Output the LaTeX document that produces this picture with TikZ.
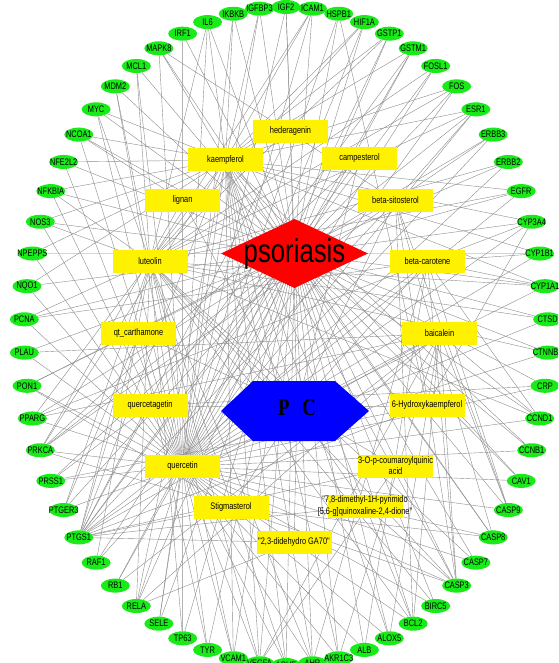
\documentclass[tikz,border=0pt]{standalone}
\usepackage{fontspec}
\newfontfamily\cond[FakeStretch=0.78,Ligatures=TeXOff]{Liberation Sans}
\newfontfamily\condserif[FakeStretch=0.78,Ligatures=TeXOff]{Liberation Serif}
\usetikzlibrary{shapes.geometric}
\pgfdeclarelayer{background}
\pgfsetlayers{background,main}
\definecolor{nodegreen}{RGB}{25,235,25}
\definecolor{edgegray}{RGB}{140,140,140}
\def\targetlist{ACHE,AHR,AKR1C3,ALB,ALOX5,BCL2,BIRC5,CASP3,CASP7,CASP8,CASP9,CAV1,CCNB1,CCND1,CRP,CTNNB1,CTSD,CYP1A1,CYP1B1,CYP3A4,EGFR,ERBB2,ERBB3,ESR1,FOS,FOSL1,GSTM1,GSTP1,HIF1A,HSPB1,ICAM1,IGF2,IGFBP3,IKBKB,IL6,IRF1,MAPK8,MCL1,MDM2,MYC,NCOA1,NFE2L2,NFKBIA,NOS3,NPEPPS,NQO1,PCNA,PLAU,PON1,PPARG,PRKCA,PRSS1,PTGER3,PTGS1,RAF1,RB1,RELA,SELE,TP63,TYR,VCAM1,VEGFA}
\begin{document}
\begin{tikzpicture}[x=1pt,y=-1pt,
  target/.style={ellipse, fill=nodegreen, minimum width=29pt, minimum height=14pt, inner sep=0pt, font=\cond\fontsize{9.5}{10}\selectfont},
  compound/.style={rectangle, fill=yellow, minimum width=75pt, minimum height=23pt, inner sep=0pt, font=\cond\fontsize{9.5}{11.5}\selectfont},
  edge/.style={draw=edgegray, line width=0.4pt}]
\clip (0,0) rectangle (558,663);

% targets on an ellipse
\foreach \n [count=\k from 0] in \targetlist {
  \pgfmathsetmacro{\ang}{270+\k*5.806452}
  \node[target] (\n) at ({286+262*cos(\ang)},{336-329*sin(\ang)}) {\makebox[0pt]{\n}};
}

% compounds
\node[compound] (hed) at (290.5,131.5) {hederagenin};
\node[compound] (kae) at (225.5,160) {kaempferol};
\node[compound] (cam) at (359.5,158.5) {campesterol};
\node[compound] (lig) at (182.5,200.5) {lignan};
\node[compound] (bsi) at (395.5,200.5) {beta-sitosterol};
\node[compound] (lut) at (150,261.5) {luteolin};
\node[compound] (bca) at (427.5,261.5) {beta-carotene};
\node[compound] (qtc) at (138.5,333.5) {qt\_carthamone};
\node[compound] (bai) at (439.5,333.5) {baicalein};
\node[compound] (qcg) at (150,405.5) {quercetagetin};
\node[compound] (hyk) at (427,405.5) {\makebox[0pt]{6-Hydroxykaempferol}};
\node[compound] (que) at (182.5,466.5) {quercetin};
\node[compound] (cqa) at (395.5,466.5) {\makebox[0pt]{\begin{tabular}{@{}c@{}}3-O-p-coumaroylquinic\\acid\end{tabular}}};
\node[compound] (sti) at (231,507.5) {Stigmasterol};
\node[compound] (dmp) at (365,506) {\makebox[0pt]{\begin{tabular}{@{}c@{}}"7,8-dimethyl-1H-pyrimido\\{}[5,6-g]quinoxaline-2,4-dione"\end{tabular}}};
\node[compound] (gaa) at (294,542.5) {\makebox[0pt]{"2,3-didehydro GA70"}};

% psoriasis
\fill[red] (221,253.5) -- (294.5,219) -- (368,253.5) -- (294.5,288) -- cycle;
\node[font=\cond\fontsize{33}{33}\selectfont, inner sep=0pt] (pso) at (294.5,253.5) {psoriasis};

% PC
\fill[blue] (221,411) -- (253,381) -- (335,381) -- (369,411) -- (335,441) -- (253,441) -- cycle;
\node[font=\condserif\bfseries\fontsize{24}{24}\selectfont, inner sep=0pt] (pc) at (297,408) {P\hspace{13pt}C};

\begin{pgfonlayer}{background}
  \fill[white] (0,0) rectangle (558,663);
  \foreach \c in {hed,kae,cam,lig,bsi,lut,bca,qtc,bai,qcg,hyk,que,cqa,sti,dmp,gaa}
    \draw[edge] (pc) -- (\c);
  \foreach \n in \targetlist
    \draw[edge] (pso) -- (\n);
  \foreach \t/\cs in {
    ACHE/{que,kae,lut}, AHR/{que,kae,lut,bca}, AKR1C3/{que,kae,bai}, ALB/{que,bca},
    ALOX5/{que,kae,bai}, BCL2/{que,kae,lut,bsi,bai}, BIRC5/{que,lut},
    CASP3/{que,kae,lut,bsi,bai,bca,sti,dmp}, CASP7/{que,lut}, CASP8/{que,kae,bsi,sti},
    CASP9/{que,bsi,bca,bai}, CAV1/{que,kae}, CCNB1/{que,kae}, CCND1/{que,lut,bca,bai},
    CRP/{que,qcg}, CTNNB1/{que,lut}, CTSD/{que,lut}, CYP1A1/{que,kae,lut,bca},
    CYP1B1/{que,kae,bca}, CYP3A4/{que,kae,bca,hyk}, EGFR/{que,lut,kae}, ERBB2/{que,lut},
    ERBB3/{que,bsi}, ESR1/{que,kae,lut,bsi}, FOS/{que,kae,lut}, FOSL1/{que,lut},
    GSTM1/{que,kae,qcg}, GSTP1/{que,kae,lut}, HIF1A/{que,kae,lut}, HSPB1/{que,hyk},
    ICAM1/{que,kae,lut}, IGF2/{que,hed}, IGFBP3/{que,kae}, IKBKB/{que,kae},
    IL6/{que,lut,kae}, IRF1/{que}, MAPK8/{que,kae,bsi}, MCL1/{que,lut}, MDM2/{que,lut},
    MYC/{que,lut,kae}, NCOA1/{que,kae,lig}, NFE2L2/{que,kae}, NFKBIA/{que,kae,lut},
    NOS3/{que,kae,lut}, NPEPPS/{kae,que}, NQO1/{que,kae}, PCNA/{que,lut,bca},
    PLAU/{que,bai}, PON1/{que,bsi,sti}, PPARG/{que,kae,bca,bai}, PRKCA/{que,kae,bsi,sti,lig,cam},
    PRSS1/{que,hyk,qcg}, PTGER3/{que,lut,qtc},
    PTGS1/{que,kae,lut,bsi,sti,bca,bai,qcg,hyk,cam,dmp,gaa,cqa,qtc,hed},
    RAF1/{que,lut}, RB1/{que,bai}, RELA/{que,kae,lut,bai,gaa}, SELE/{que,kae}, TP63/{que,lut},
    TYR/{que,qtc}, VCAM1/{que,kae,lut}, VEGFA/{que,kae,lut,bai,cqa}}
  {
    \foreach \c in \cs { \draw[edge] (\t) -- (\c); }
  }
\end{pgfonlayer}
\end{tikzpicture}
\end{document}
